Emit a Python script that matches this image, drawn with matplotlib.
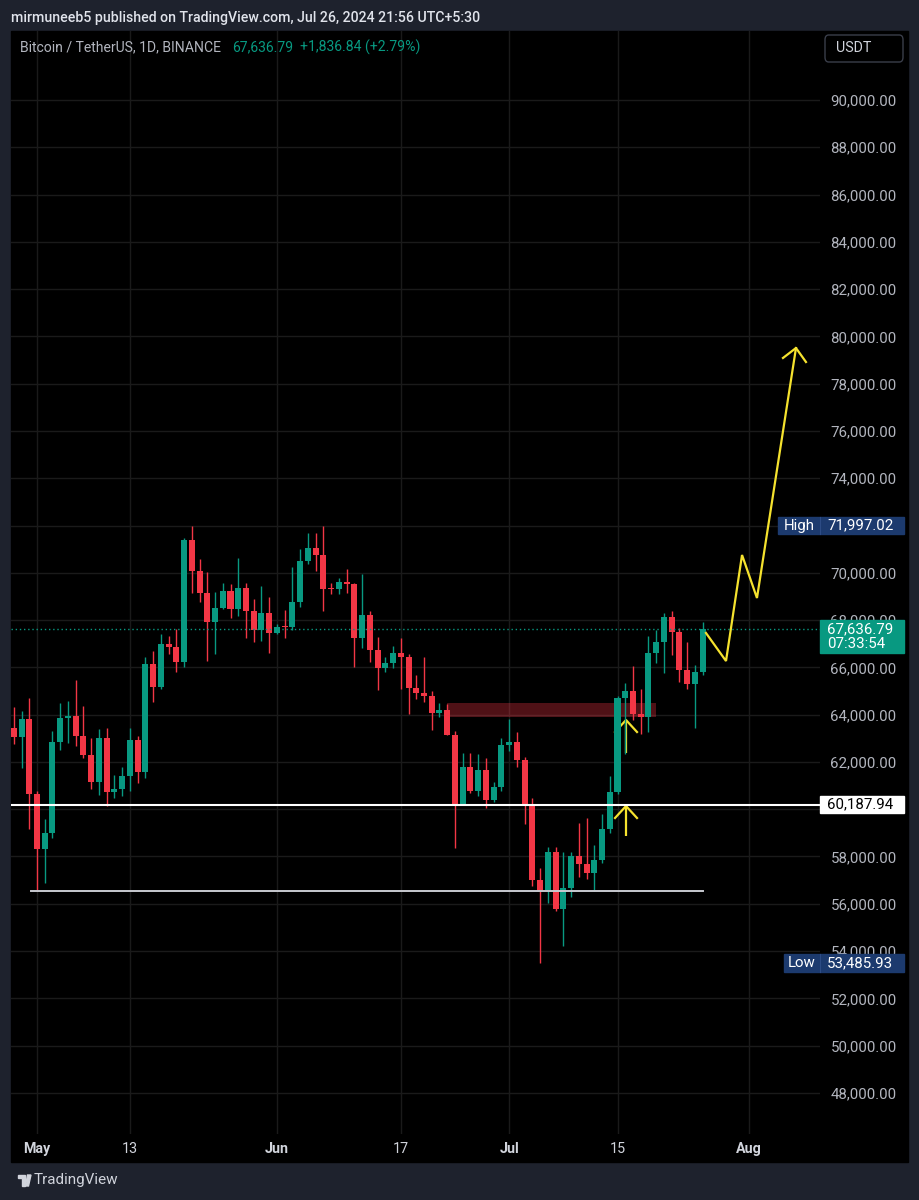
import numpy as np
import pandas as pd
import matplotlib
matplotlib.use("Agg")
import matplotlib.pyplot as plt
from matplotlib.patches import Rectangle, FancyBboxPatch, Polygon
from matplotlib.transforms import blended_transform_factory
from matplotlib.ticker import FuncFormatter

plt.rcParams['font.family'] = ['Roboto', 'DejaVu Sans']

# ---------------- data ----------------
dates = pd.date_range('2024-04-28', '2024-07-26', freq='D').strftime('%Y-%m-%d').tolist()
opens = [63430, 63060, 63820, 60640, 58320, 59000, 62840, 63860, 63940, 63100,
         62290, 61150, 63010, 60730, 60850, 61400, 62940, 61580, 66140, 65170,
         66990, 66860, 66230, 71390, 70080, 69150, 67920, 68510, 69230, 68470,
         69360, 68400, 67580, 68300, 67450, 67710, 67700, 68770, 70500, 71050,
         70750, 69320, 69300, 69610, 69520, 67240, 68220, 66730, 65980, 66180,
         66600, 66440, 65120, 64920, 64790, 64070, 64200, 63140, 60220, 61790,
         60770, 61660, 60380, 60940, 62720, 62840, 62080, 60140, 57000, 56540,
         58190, 55780, 56670, 58020, 57680, 57300, 57850, 59160, 60730, 64700,
         65000, 64030, 63900, 66610, 67070, 68130, 67500, 65890, 65300, 65800]
highs = [64320, 64150, 64700, 60780, 59590, 63310, 64490, 64580, 65470, 64370,
         63010, 63390, 63440, 61450, 61790, 63450, 63100, 66450, 66690, 67410,
         67330, 67620, 71470, 71980, 70580, 70030, 69190, 69570, 69530, 70630,
         69560, 68890, 69440, 68980, 67830, 68430, 70250, 71010, 71680, 71680,
         71997.02, 69550, 69780, 70160, 69560, 69950, 68380, 67280, 66440, 66900,
         67240, 66550, 65680, 66440, 65000, 64490, 64450, 63310, 62380, 62380,
         62330, 62170, 61150, 63010, 63810, 63270, 62210, 60480, 57510, 58400,
         58400, 58190, 58190, 59420, 59630, 58490, 59800, 61400, 64780, 65340,
         66060, 65090, 67330, 67580, 68300, 68380, 67670, 67070, 66100, 67920]
lows = [62760, 61740, 59160, 56540, 56880, 58800, 62500, 62800, 62670, 62170,
        60850, 60600, 60140, 60470, 60560, 60750, 61100, 61300, 64540, 65085,
        66560, 65800, 66010, 69150, 68770, 66270, 66560, 68470, 68090, 68170,
        67240, 67070, 67120, 66610, 67410, 67240, 67580, 68550, 70370, 70080,
        68380, 69120, 69100, 69150, 66020, 66820, 66230, 65040, 65800, 65970,
        65080, 64030, 64660, 64530, 63350, 63900, 63140, 58360, 60200, 60680,
        60560, 60050, 60300, 60770, 62460, 61790, 59370, 56750, 53485.93, 56030,
        55690, 54210, 56290, 57130, 57050, 56540, 57720, 59000, 60640, 62340,
        63770, 63180, 63270, 66180, 65760, 66520, 65380, 65090, 63440, 65680]
closes = [63060, 63820, 60640, 58320, 59000, 62840, 63860, 63940, 63100, 62290,
          61150, 63010, 60730, 60850, 61400, 62940, 61580, 66140, 65170, 66990,
          66860, 66230, 71390, 70080, 69150, 67920, 68510, 69230, 68470, 69360,
          68400, 67580, 68300, 67450, 67710, 67700, 68770, 70500, 71050, 70750,
          69320, 69300, 69610, 69520, 67240, 68220, 66730, 65980, 66180, 66600,
          66440, 65120, 64920, 64790, 64070, 64200, 63140, 60220, 61790, 60770,
          61660, 60380, 60940, 62720, 62840, 62080, 60140, 57000, 56540, 58190,
          55780, 56670, 58020, 57680, 57300, 57850, 59160, 60730, 64700, 65000,
          64030, 63900, 66610, 67070, 68130, 67500, 65890, 65300, 65800, 67636.79]

price_ticks = list(range(48000, 90001, 2000))
hidden_price_ticks = [60000, 72000]       # covered by price-scale labels
time_tick_dates = ['2024-05-01', '2024-05-13', '2024-06-01', '2024-06-17',
                   '2024-07-01', '2024-07-15', '2024-08-01']
time_tick_labels = ['May', '13', 'Jun', '17', 'Jul', '15', 'Aug']
month_labels = ['May', 'Jun', 'Jul', 'Aug']

last_price = 67636.79
price_change = 1836.84
price_change_pct = 2.79
countdown = '07:33:54'
high_value = 71997.02
low_value = 53485.93
support_level = 60187.94
base_level = 56540.0
base_line_days = [-0.78, 86.05]          # days since 1 May
zone_days = [52.97, 79.97]
zone_prices = [63900, 64490]
path_days = [86.43, 89.02, 91.09, 93.02, 98.06]
path_prices = [67454, 66269, 70753, 68934, 79509]
path_head_days = [96.38, 98.06, 99.35]
path_head_prices = [79087, 79509, 78917]
arrow_days = [76.1, 76.1]
arrow_tails = [58866, 62377]
arrow_tips = [60135, 63773]

# ---------------- layout ----------------
W, H = 919, 1200
BG = '#1e222d'
GREEN = '#089981'
RED = '#F23645'
TXT = '#b2b5be'
NAVY = '#1c3a6e'
YEL = '#F5E22E'

def fx(px):
    return px / W

def fy(py):
    return 1 - py / H

PX_DAY0, PX_PER_DAY = 37.0, 7.74       # pixel of 1 May, pixels per day
PX_P90, PX_PER_K = 100.0, 23.64         # pixel of 90,000, pixels per 1,000

def day_at(px):
    return (px - PX_DAY0) / PX_PER_DAY

def price_at(py):
    return 90000 - (py - PX_P90) / PX_PER_K * 1000

AX_L, AX_R, AX_T, AX_B = 11, 820, 31, 1134

fig = plt.figure(figsize=(W / 100, H / 100), dpi=100)
fig.patch.set_facecolor(BG)

# black chart panel
fig.add_artist(Rectangle((fx(11), fy(1162)), fx(908) - fx(11), (1162 - 31) / H,
                         transform=fig.transFigure, color='black', zorder=0))

ax = fig.add_axes([fx(AX_L), fy(AX_B), (AX_R - AX_L) / W, (AX_B - AX_T) / H])
ax.set_facecolor('black')
for s in ax.spines.values():
    s.set_visible(False)
ax.set_xlim(day_at(AX_L), day_at(AX_R))
ax.set_ylim(price_at(AX_B), price_at(AX_T))
ppp = 1000 / PX_PER_K   # price per pixel

days = (pd.to_datetime(dates) - pd.Timestamp('2024-05-01')).days.values.astype(float)
o = np.array(opens, float); h = np.array(highs, float)
l = np.array(lows, float); c = np.array(closes, float)
up = c >= o
cols = np.where(up, GREEN, RED)

# axes ticks + grid
tick_days = (pd.to_datetime(time_tick_dates) - pd.Timestamp('2024-05-01')).days.values
ax.set_xticks(tick_days)
ax.set_xticklabels(time_tick_labels)
ax.set_yticks(price_ticks)
ax.yaxis.set_major_formatter(FuncFormatter(
    lambda v, p: '' if int(round(v)) in hidden_price_ticks else f"{v:,.2f}"))
ax.yaxis.tick_right()
ax.grid(True, color='#1a1a1a', lw=1, zorder=0)
ax.set_axisbelow(True)
ax.tick_params(axis='y', length=0, pad=7.5, labelcolor=TXT, labelsize=10.8)
ax.tick_params(axis='x', length=0, pad=6, labelcolor='#d1d4dc', labelsize=10.3)
for t in ax.get_xticklabels():
    if t.get_text() in month_labels:
        t.set_fontweight('bold')

# zone rectangle
ax.add_patch(Rectangle((zone_days[0], zone_prices[0]), zone_days[1] - zone_days[0],
                       zone_prices[1] - zone_prices[0], color=RED, alpha=0.33,
                       lw=0, zorder=1))

# yellow arrows (under candles)
for d, t0, t1 in zip(arrow_days, arrow_tails, arrow_tips):
    ax.plot([d, d], [t0, t1], color=YEL, lw=1.6, zorder=2, solid_capstyle='butt')
    ax.plot([d - 1.42, d, d + 1.42], [t1 - 12 * ppp, t1, t1 - 12 * ppp],
            color=YEL, lw=1.6, zorder=2)

# candles
ax.vlines(days, l, h, colors=cols, lw=1, zorder=3)
body_h = np.maximum(np.abs(c - o), ppp * 1.0)
ax.bar(days, body_h, bottom=np.minimum(o, c), width=0.78, color=cols, lw=0, zorder=3)

# horizontal lines
ax.axhline(support_level, color='white', lw=1.5, zorder=4)
ax.plot(base_line_days, [base_level, base_level], color='#c8cad0', lw=1.4, zorder=4)
ax.axhline(last_price, color=GREEN, lw=1, ls=(0, (1, 2)), zorder=4)

# yellow projection path
ax.plot(path_days, path_prices, color=YEL, lw=1.6, zorder=5, solid_joinstyle='miter')
ax.plot(path_head_days, path_head_prices, color=YEL, lw=1.6, zorder=5)

# ---------------- price-scale labels ----------------
bt = blended_transform_factory(fig.transFigure, ax.transData)

def box(x0, x1, price, hpx, color, lines, tcolor, fs=10.8, left_label=None, lx0=None):
    if left_label is not None:
        fig.add_artist(Rectangle((fx(lx0), price - hpx / 2 * ppp), fx(x1) - fx(lx0),
                                 hpx * ppp, transform=bt, color=color, zorder=10))
        fig.add_artist(plt.Line2D([fx(x0), fx(x0)], [price - hpx / 2 * ppp, price + hpx / 2 * ppp],
                                  transform=bt, color='#2d4c85', lw=0.8, zorder=11))
        fig.text((fx(lx0) + fx(x0)) / 2, price, left_label, transform=bt, color='white',
                 fontsize=fs, ha='center', va='center', zorder=12)
    else:
        fig.add_artist(Rectangle((fx(x0), price - hpx / 2 * ppp), fx(x1) - fx(x0),
                                 hpx * ppp, transform=bt, color=color, zorder=10))
    n = len(lines)
    for i, s in enumerate(lines):
        yy = price + ((n - 1) / 2 - i) * 15 * ppp
        fig.text(fx(x0) + fx(7), yy, s, transform=bt, color=tcolor, fontsize=fs,
                 ha='left', va='center', zorder=12)

box(820, 904, last_price - 8 * ppp, 33, GREEN, [f"{last_price:,.2f}", countdown], 'white')
box(820, 904, support_level, 17, 'white', [f"{support_level:,.2f}"], 'black')
box(820, 904, high_value, 17, NAVY, [f"{high_value:,.2f}"], 'white', left_label='High', lx0=778)
box(820, 904, low_value, 18, NAVY, [f"{low_value:,.2f}"], 'white', left_label='Low', lx0=784)

# USDT box
fig.add_artist(FancyBboxPatch((fx(825), fy(62)), fx(903) - fx(825), (62 - 35) / H,
                              boxstyle='round,pad=0,rounding_size=0.004',
                              transform=fig.transFigure, facecolor='black',
                              edgecolor='#3a3e4a', lw=1, zorder=10))
fig.text(fx(836), fy(48.5), 'USDT', color='#d1d4dc', fontsize=10.3, ha='left', va='center', zorder=11)

# ---------------- header texts ----------------
fig.text(fx(11), fy(18), 'mirmuneeb5 published on TradingView.com, Jul 26, 2024 21:56 UTC+5:30',
         color='#e0e3eb', fontsize=10.2, fontweight='medium', ha='left', va='center')
fig.text(fx(20), fy(47), 'Bitcoin / TetherUS, 1D, BINANCE', color=TXT, fontsize=10.1,
         ha='left', va='center', zorder=11)
fig.text(fx(232), fy(47), f"{last_price:,.2f}", color=GREEN, fontsize=10.1,
         ha='left', va='center', zorder=11)
fig.text(fx(300), fy(47), f"+{price_change:,.2f} (+{price_change_pct:.2f}%)", color=GREEN,
         fontsize=10.1, ha='left', va='center', zorder=11)

# ---------------- footer logo ----------------
fig.add_artist(Polygon([(fx(18), fy(1175)), (fx(25), fy(1175)), (fx(25), fy(1186)),
                        (fx(22), fy(1186)), (fx(22), fy(1178)), (fx(18), fy(1178))],
                       closed=True, transform=fig.transFigure, color='#d1d4dc', zorder=5))
fig.add_artist(Polygon([(fx(27.5), fy(1175)), (fx(31), fy(1175)), (fx(28.5), fy(1186)),
                        (fx(25.5), fy(1186))],
                       closed=True, transform=fig.transFigure, color='#d1d4dc', zorder=5))
fig.text(fx(34), fy(1180), 'TradingView', color='#d1d4dc', fontsize=11,
         ha='left', va='center')

fig.savefig('out.png', dpi=100, facecolor=BG)
